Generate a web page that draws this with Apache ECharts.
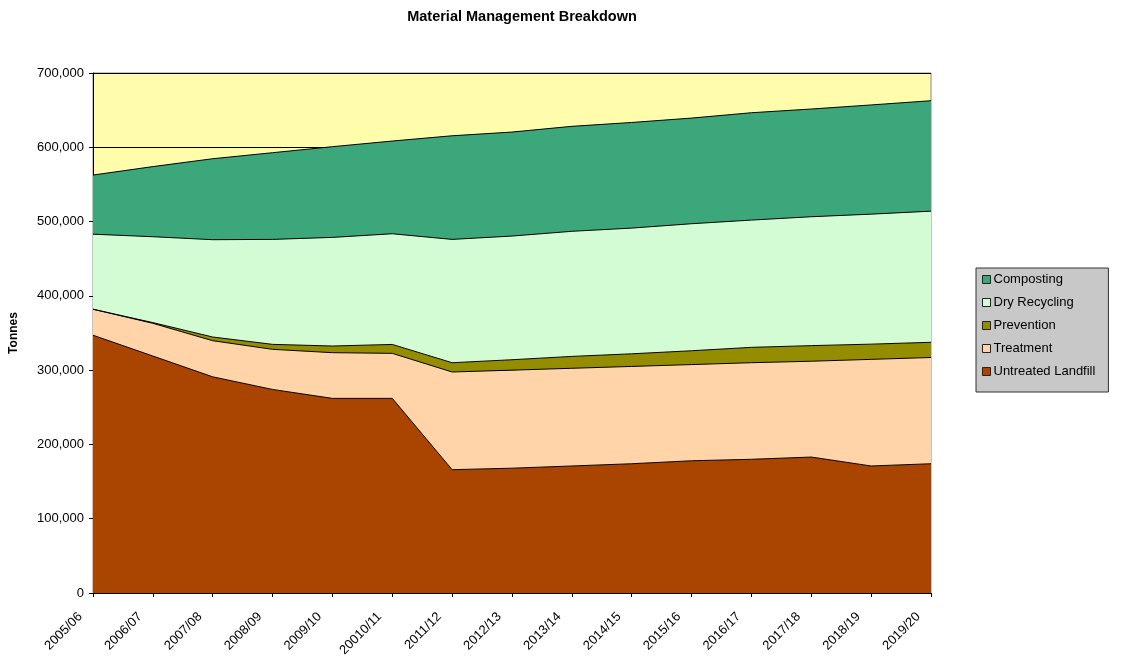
<!DOCTYPE html>
<html>
<head>
<meta charset="utf-8">
<script src="https://cdn.jsdelivr.net/npm/echarts@6/dist/echarts.min.js"></script>
<style>
  html, body { margin: 0; padding: 0; background: #fff; }
  #chartsDiv { width: 1123px; height: 657px; }
</style>
</head>
<body>
<div id="chartsDiv"></div>
<script>
var years = ['2005/06', '2006/07', '2007/08', '2008/09', '2009/10', '20010/11', '2011/12',
  '2012/13', '2013/14', '2014/15', '2015/16', '2016/17', '2017/18', '2018/19', '2019/20']

// tonnes
var landfill = [347000, 319000, 291000, 274000, 262000, 262000, 166000, 168000, 171000,
  174000, 178000, 180000, 183000, 171000, 174000]
var treatment = [35000, 44000, 48600, 54000, 61500, 60600, 131500, 132000, 131500,
  131000, 129500, 130000, 129000, 143500, 143000]
var prevention = [0, 1000, 5000, 6700, 9000, 12000, 12500, 14000, 16000, 17000, 18600,
  20700, 21000, 20500, 20500]
var dryRecycling = [101000, 115600, 131000, 141300, 146200, 149000, 166000, 166500, 168400,
  169200, 171000, 171300, 173500, 175000, 176500]
var composting = [79600, 94400, 109000, 116700, 122100, 124800, 139500, 140000, 141300,
  142200, 142200, 144500, 145000, 147000, 148700]

var yTicks = [0, 100000, 200000, 300000, 400000, 500000, 600000, 700000]
var legendOrder = ['Composting', 'Dry Recycling', 'Prevention', 'Treatment', 'Untreated Landfill']

var font = 'Arial, "Liberation Sans", sans-serif'

var realChart = echarts.init(document.getElementById('chartsDiv'), null, {
  renderer: 'canvas'
})

var makeArea = function(name, data, color) {
  return {
    name: name,
    type: 'line',
    stack: 'total',
    data: data,
    symbol: 'none',
    color: color,
    lineStyle: { color: '#000', width: 1 },
    areaStyle: { color: color, opacity: 1 },
    itemStyle: { color: color },
    emphasis: { disabled: true }
  }
}

var option = {
  animation: false,
  title: {
    text: 'Material Management Breakdown',
    left: 517,
    top: 4,
    textAlign: 'center',
    textStyle: {
      fontFamily: font,
      fontSize: 14.5,
      fontWeight: 'bold',
      color: '#000'
    }
  },
  legend: {
    data: legendOrder,
    orient: 'vertical',
    left: 976,
    top: 268,
    icon: 'rect',
    itemWidth: 8,
    itemHeight: 8,
    itemGap: 10,
    padding: [5, 13, 14, 6],
    backgroundColor: '#C8C8C8',
    borderColor: '#333',
    borderWidth: 1,
    borderRadius: 0,
    itemStyle: { borderColor: '#222', borderWidth: 1 },
    textStyle: {
      fontFamily: font,
      fontSize: 13,
      color: '#000',
      padding: [0, 0, 0, -2]
    }
  },
  grid: {
    left: 93,
    right: 192,
    top: 73,
    bottom: 64,
    outerBoundsMode: 'none',
    show: true,
    backgroundColor: '#FFFCAB',
    borderColor: '#8a8a8a',
    borderWidth: 1
  },
  xAxis: {
    type: 'category',
    data: years,
    boundaryGap: false,
    axisLine: { lineStyle: { color: '#000', width: 1 } },
    axisTick: { show: true, interval: 0, length: 4, lineStyle: { color: '#000' } },
    axisLabel: {
      interval: 0,
      rotate: 45,
      margin: 9,
      padding: [0, 18, 0, 0],
      fontFamily: font,
      fontSize: 13,
      color: '#000'
    },
    splitLine: { show: false }
  },
  yAxis: {
    type: 'value',
    min: yTicks[0],
    max: yTicks[yTicks.length - 1],
    interval: 100000,
    name: 'Tonnes',
    nameLocation: 'middle',
    nameGap: 73,
    nameTextStyle: {
      fontFamily: font,
      fontSize: 12,
      fontWeight: 'bold',
      color: '#000'
    },
    axisLine: { show: true, lineStyle: { color: '#000', width: 1 } },
    axisTick: { show: true, length: 4, lineStyle: { color: '#000' } },
    axisLabel: {
      margin: 9,
      fontFamily: font,
      fontSize: 13,
      color: '#000',
      formatter: function(v) {
        return v.toLocaleString('en-US')
      }
    },
    splitLine: { show: true, lineStyle: { color: '#000', width: 1 } }
  },
  series: [
    makeArea('Untreated Landfill', landfill, '#A94500'),
    makeArea('Treatment', treatment, '#FFD4A8'),
    makeArea('Prevention', prevention, '#948D00'),
    makeArea('Dry Recycling', dryRecycling, '#D3FCD5'),
    makeArea('Composting', composting, '#3CA77A')
  ]
}

realChart.setOption(option)
</script>
</body>
</html>
